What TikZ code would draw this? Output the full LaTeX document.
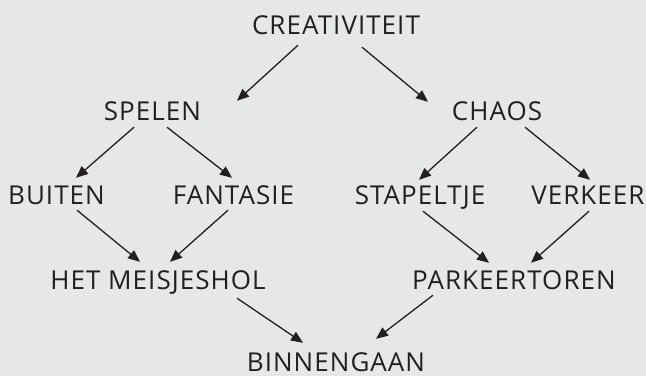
\documentclass[tikz,border=0pt]{standalone}
\usepackage{fontspec}
\setmainfont[LetterSpace=4]{Open Sans}
\usetikzlibrary{arrows.meta,positioning}
\definecolor{bgray}{RGB}{230,231,232}
\definecolor{ink}{RGB}{35,31,32}

\begin{document}
\begin{tikzpicture}[%
    x=1pt, y=1pt,               % Work in pixel-sized units
    >={Triangle[length=12pt,width=10pt]},
    node distance=85pt and 90pt,% Global setup of word spacing
    ]
% -------------------------------------------------
% Word and connector styles
% <on grid> places the word centres at the given distances
\tikzset{
  base/.style={on grid, inner sep=0pt, text height=19pt, text depth=0pt, text=ink},
  word/.style={base, font=\fontsize{26}{30}\selectfont},
  ar/.style={->, draw=ink, line width=1.3pt, shorten >=0pt},
}
\fill[bgray] (0,0) rectangle (646,-376);
\useasboundingbox (0,0) rectangle (646,-376);
% -------------------------------------------------
% Start by placing the words
\node [word] (cr) at (336,-24.5) {CREATIVITEIT};
\node [word, below left = 86pt and 183.5pt of cr] (sp) {SPELEN};
\node [word, below right = 86.5pt and 161pt of cr] (ch) {CHAOS};
\node [word, below left = 84.5pt and 96pt of sp] (bu) {BUITEN};
\node [word, below right = 84.5pt and 81pt of sp] (fa) {FANTASIE};
\node [word, below left = 84pt and 77pt of ch] (st) {STAPELTJE};
\node [word, below right = 84pt and 91pt of ch] (ve) {VERKEER};
\node [word, below right = 85pt and 101.5pt of bu] (he) {HET MEISJESHOL};
\node [word, below right = 85pt and 94pt of st] (pa) {PARKEERTOREN};
\node [word, below right = 82pt and 178pt of he] (bi) {BINNENGAAN};

\draw[ar] ([shift={(-38,-11)}]cr.south) -- ([shift={(84.5,0)}]sp.north);	%Creativiteit,Spelen
\draw[ar] ([shift={(26,-13)}]cr.south) -- ([shift={(-69,-0.5)}]ch.north);	%Creativiteit,Chaos
\draw[ar] ([shift={(-18.5,-7)}]sp.south) -- ([shift={(19.5,7.5)}]bu.north);	%Spelen,Buiten
\draw[ar] ([shift={(14.5,-7)}]sp.south) -- ([shift={(-1.5,7.5)}]fa.north);	%Spelen,Fantasie
\draw[ar] ([shift={(-20,-6.5)}]ch.south) -- ([shift={(-1,5.5)}]st.north);	%Chaos,Stapeltje
\draw[ar] ([shift={(28,-6.5)}]ch.south) -- ([shift={(2,5.5)}]ve.north);	%Chaos,Verkeer
\draw[ar] ([shift={(20.5,-5.5)}]bu.south) -- ([shift={(-18,8.5)}]he.north);	%Buiten,Het Meisjeshol
\draw[ar] ([shift={(-5.5,-5.5)}]fa.south) -- ([shift={(12,8.5)}]he.north);	%Fantasie,Het Meisjeshol
\draw[ar] ([shift={(3,-6.5)}]st.south) -- ([shift={(-25,7.5)}]pa.north);	%Stapeltje,Parkeertoren
\draw[ar] ([shift={(1,-6.5)}]ve.south) -- ([shift={(17,7.5)}]pa.north);	%Verkeer,Parkeertoren
\draw[ar] ([shift={(79,-8.5)}]he.south) -- ([shift={(-33,9.5)}]bi.north);	%Het Meisjeshol,Binnengaan
\draw[ar] ([shift={(-81,-5.5)}]pa.south) -- ([shift={(40,13.5)}]bi.north);	%Parkeertoren,Binnengaan

% -------------------------------------------------
\end{tikzpicture}
\end{document}
